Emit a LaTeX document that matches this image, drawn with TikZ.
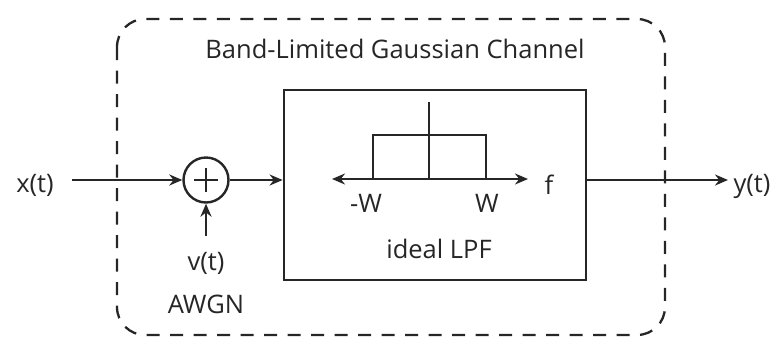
\documentclass[tikz,border=0pt]{standalone}
\usepackage{fontspec}
\setmainfont{Open Sans}
\usetikzlibrary{arrows.meta}
\begin{document}
\begin{tikzpicture}[x=1pt,y=-1pt,
  lbl/.style={font=\fontsize{25.5}{30}\selectfont, text=black!85, inner sep=0pt, anchor=base},
  tip/.style={-{Stealth[length=13pt,width=11pt]}},
  wire/.style={line width=2.4pt, draw=black!85, tip},
  box/.style={line width=2.8pt, draw=black!85}]
\useasboundingbox (0,0) rectangle (783,338);
% dashed channel boundary
\draw[line width=2.3pt, draw=black!85, dash pattern=on 13pt off 10.5pt, rounded corners=28pt]
  (117,19) rectangle (665,335);
\node[lbl] (title) at (395,58) {Band-Limited Gaussian Channel};
% inner LPF box
\node[box, minimum width=302pt, minimum height=190pt, inner sep=0pt] (lpf) at (435,185) {};
% summer
\node[draw=black!85, line width=2.4pt, circle, minimum size=45pt, inner sep=0pt] (sum) at (206,180) {};
\draw[line width=2.4pt, draw=black!85] (sum.center) ++(-12,0) -- ++(24,0) (sum.center) ++(0,-12) -- ++(0,24);
% labels
\node[lbl] (x) at (35,192) {x(t)};
\node[lbl] (y) at (752,192) {y(t)};
\node[lbl] (v) at (206,270) {v(t)};
\node[lbl] (awgn) at (206,313) {AWGN};
\coordinate (xs) at (72,180);
\coordinate (vtop) at (206,236);
\coordinate (yend) at (728,180);
% connectors
\draw[wire] (xs) -- (sum.west);
\draw[wire] (sum.east) -- (lpf.west |- sum);
\draw[wire] (lpf.east |- sum) -- (yend);
\draw[wire] (vtop) -- (sum.south);
% spectrum inside box
\coordinate (axl) at (332,179);
\coordinate (axr) at (528,179);
\draw[line width=2.4pt, draw=black!85, {Stealth[length=13pt,width=11pt]}-{Stealth[length=13pt,width=11pt]}] (axl) -- (axr);
\draw[line width=2.4pt, draw=black!85] (429,179) -- (429,102);
\draw[line width=2.4pt, draw=black!85] (373,179) -- (373,135) -- (486,135) -- (486,179);
\node[lbl] (mw) at (366,212) {-W};
\node[lbl] (w) at (487,212) {W};
\node[lbl] (f) at (549,194) {f};
\node[lbl] (ideal) at (439,258) {ideal LPF};
\end{tikzpicture}
\end{document}
